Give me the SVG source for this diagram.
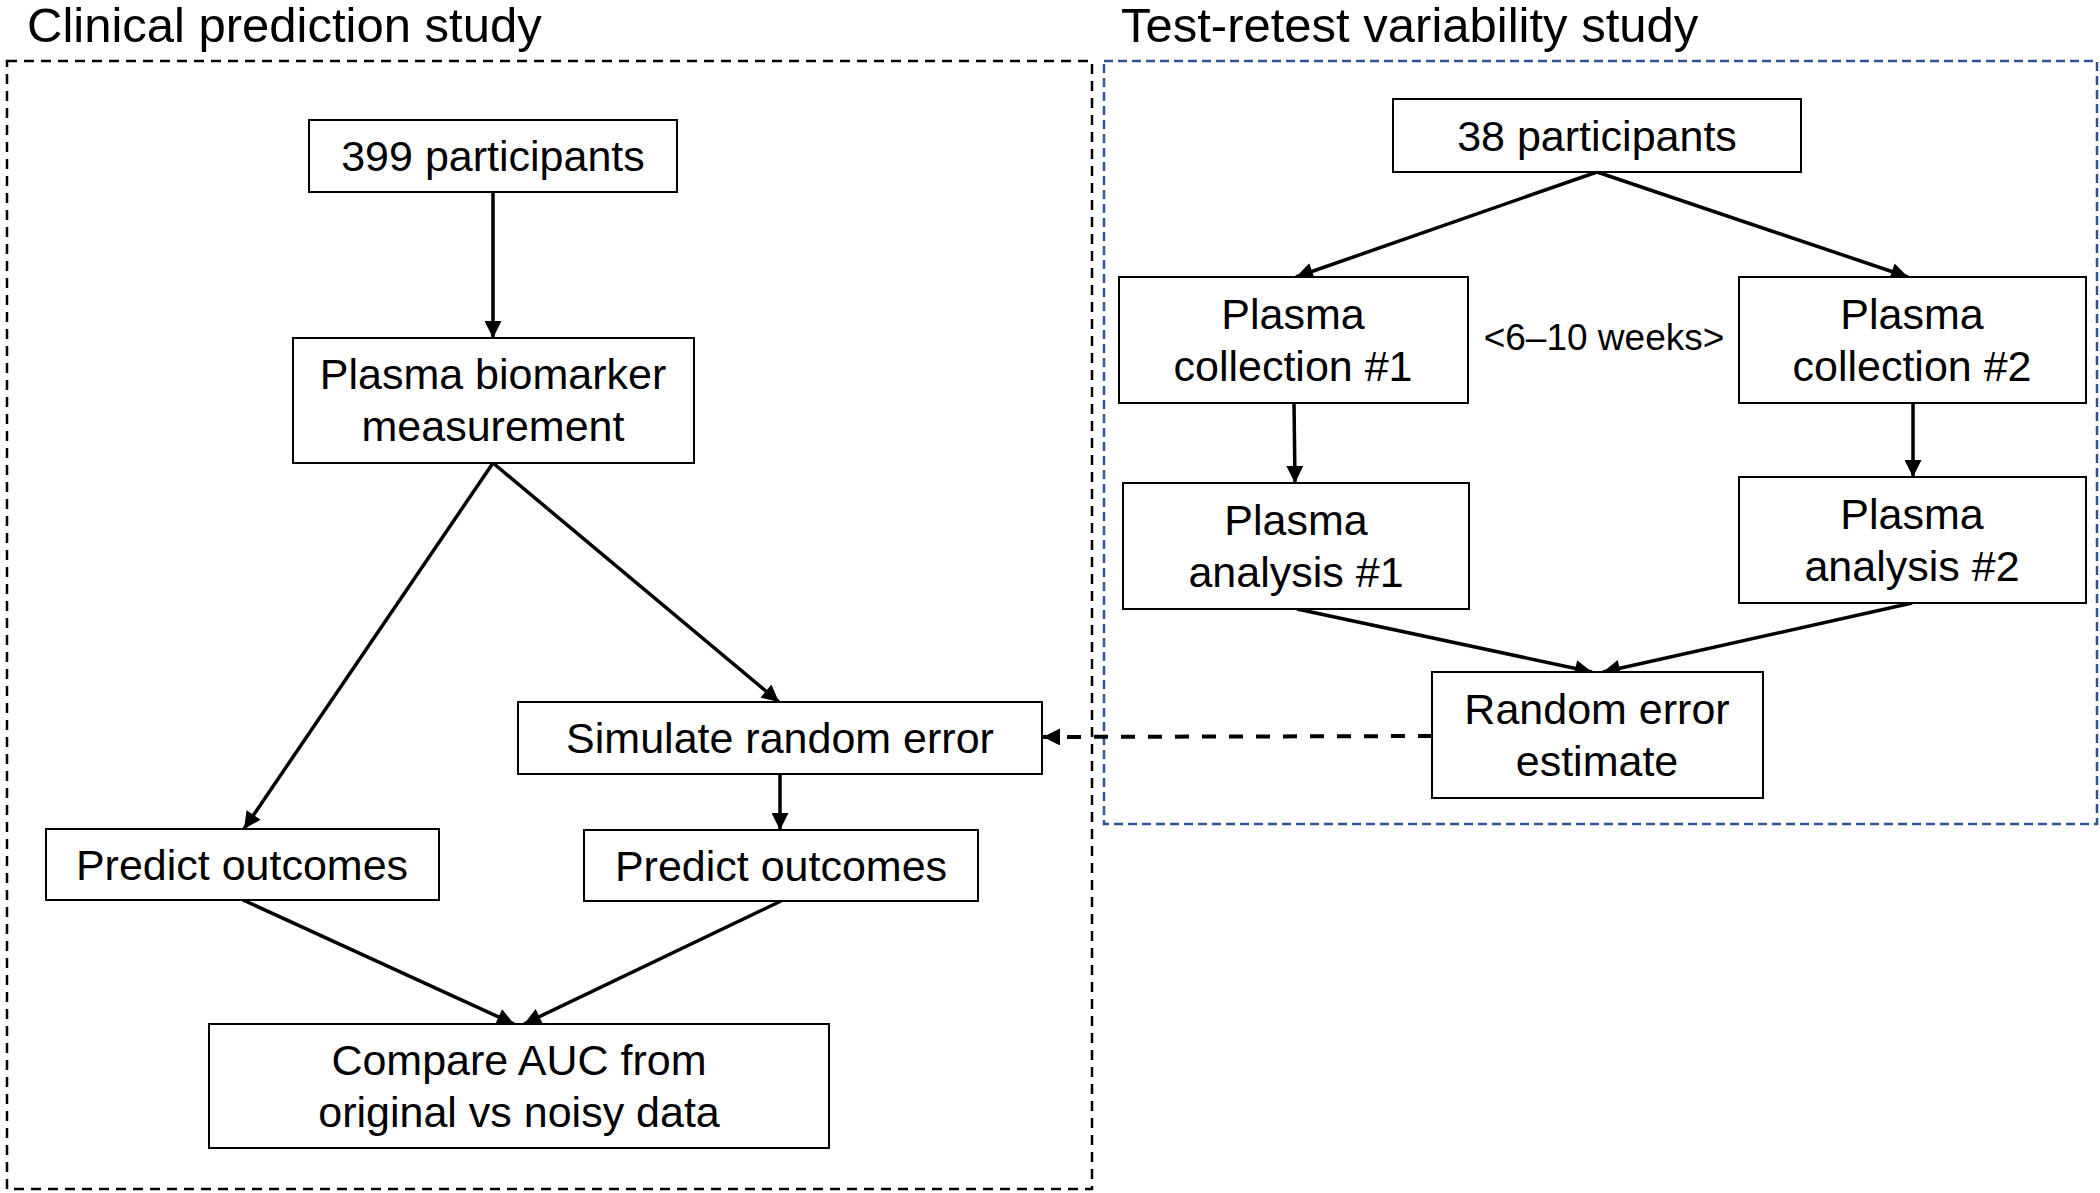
<svg xmlns="http://www.w3.org/2000/svg" width="2100" height="1193" viewBox="0 0 2100 1193">
<style>
  .bg { fill: #ffffff; }
  .box { fill: #ffffff; stroke: #000000; stroke-width: 2; }
  .t { font-family: "Liberation Sans", Arial, sans-serif; font-size: 43px; fill: #000000; text-anchor: middle; }
  .title { font-family: "Liberation Sans", Arial, sans-serif; font-size: 49px; fill: #000000; }
  .small { font-family: "Liberation Sans", Arial, sans-serif; font-size: 37px; fill: #000000; text-anchor: middle; }
  .frameL { fill: none; stroke: #000000; stroke-width: 2.5; stroke-dasharray: 10 7; }
  .frameR { fill: none; stroke: #2b5496; stroke-width: 2.5; stroke-dasharray: 9 5; }
  .edge { fill: none; stroke: #000000; stroke-width: 3.5; marker-end: url(#ah); }
  .dedge { fill: none; stroke: #000000; stroke-width: 4; stroke-dasharray: 14 13; marker-end: url(#ah); }
</style>
<defs>
  <marker id="ah" viewBox="0 0 10 10" refX="10" refY="5" markerUnits="userSpaceOnUse" markerWidth="18" markerHeight="17" orient="auto">
    <path d="M0,0 L10,5 L0,10 Z" fill="#000000"/>
  </marker>
</defs>
<rect class="bg" x="0" y="0" width="2100" height="1193"/>

<g id="frames">
  <rect id="frame-clinical" class="frameL" x="7" y="61" width="1085" height="1128"/>
  <rect id="frame-testretest" class="frameR" x="1104" y="61" width="993" height="763"/>
  <text id="title-clinical" class="title" x="27" y="42">Clinical prediction study</text>
  <text id="title-testretest" class="title" x="1121" y="42">Test-retest variability study</text>
</g>

<g id="connectors">
  <line class="edge" x1="493" y1="192" x2="493" y2="338"/>
  <line class="edge" x1="493" y1="463" x2="244" y2="829"/>
  <line class="edge" x1="493" y1="463" x2="779" y2="702"/>
  <line class="edge" x1="780" y1="774" x2="780" y2="830"/>
  <line class="edge" x1="243" y1="900" x2="514" y2="1024"/>
  <line class="edge" x1="781" y1="901" x2="524" y2="1024"/>
  <line class="edge" x1="1597" y1="172" x2="1296" y2="277"/>
  <line class="edge" x1="1597" y1="172" x2="1908" y2="277"/>
  <line class="edge" x1="1294" y1="403" x2="1295" y2="483"/>
  <line class="edge" x1="1913" y1="403" x2="1913" y2="477"/>
  <line class="edge" x1="1297" y1="609" x2="1592" y2="672"/>
  <line class="edge" x1="1912" y1="603" x2="1603" y2="672"/>
  <line class="dedge" x1="1432" y1="736" x2="1043" y2="737"/>
</g>

<g id="n-399">
  <rect class="box" x="309" y="120" width="368" height="72"/>
  <text class="t" x="493" y="171">399 participants</text>
</g>
<g id="n-biomarker">
  <rect class="box" x="293" y="338" width="401" height="125"/>
  <text class="t" x="493" y="389">Plasma biomarker</text>
  <text class="t" x="493" y="441">measurement</text>
</g>
<g id="n-simulate">
  <rect class="box" x="518" y="702" width="524" height="72"/>
  <text class="t" x="780" y="753">Simulate random error</text>
</g>
<g id="n-predict-left">
  <rect class="box" x="46" y="829" width="393" height="71"/>
  <text class="t" x="242" y="880">Predict outcomes</text>
</g>
<g id="n-predict-right">
  <rect class="box" x="584" y="830" width="394" height="71"/>
  <text class="t" x="781" y="881">Predict outcomes</text>
</g>
<g id="n-compare">
  <rect class="box" x="209" y="1024" width="620" height="124"/>
  <text class="t" x="519" y="1075">Compare AUC from</text>
  <text class="t" x="519" y="1127">original vs noisy data</text>
</g>

<g id="n-38">
  <rect class="box" x="1393" y="99" width="408" height="73"/>
  <text class="t" x="1597" y="151">38 participants</text>
</g>
<g id="n-coll1">
  <rect class="box" x="1119" y="277" width="349" height="126"/>
  <text class="t" x="1293" y="329">Plasma</text>
  <text class="t" x="1293" y="381">collection #1</text>
</g>
<g id="n-coll2">
  <rect class="box" x="1739" y="277" width="347" height="126"/>
  <text class="t" x="1912" y="329">Plasma</text>
  <text class="t" x="1912" y="381">collection #2</text>
</g>
<g id="n-weeks">
  <text class="small" x="1604" y="350">&lt;6–10 weeks&gt;</text>
</g>
<g id="n-anal1">
  <rect class="box" x="1123" y="483" width="346" height="126"/>
  <text class="t" x="1296" y="535">Plasma</text>
  <text class="t" x="1296" y="587">analysis #1</text>
</g>
<g id="n-anal2">
  <rect class="box" x="1739" y="477" width="347" height="126"/>
  <text class="t" x="1912" y="529">Plasma</text>
  <text class="t" x="1912" y="581">analysis #2</text>
</g>
<g id="n-estimate">
  <rect class="box" x="1432" y="672" width="331" height="126"/>
  <text class="t" x="1597" y="724">Random error</text>
  <text class="t" x="1597" y="776">estimate</text>
</g>
</svg>
